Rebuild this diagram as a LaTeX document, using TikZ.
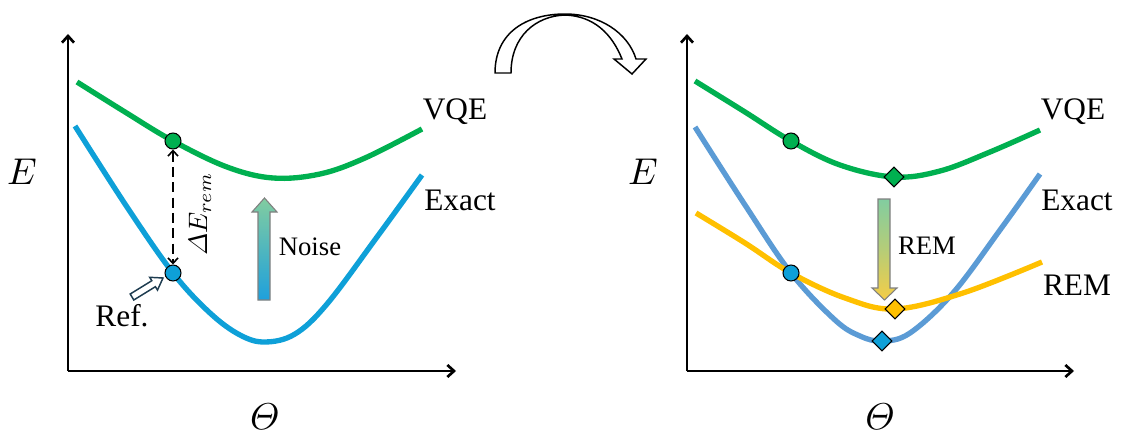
\documentclass[tikz,border=0pt]{standalone}
\usepackage{amsmath}
\usepackage[no-math]{fontspec}
\setmainfont{Liberation Serif}
\usetikzlibrary{arrows.meta,shapes.geometric}
\definecolor{cgreen}{RGB}{0,176,80}
\definecolor{cblue}{RGB}{14,160,216}
\definecolor{cblueR}{RGB}{91,155,213}
\definecolor{cyellow}{RGB}{255,192,0}
\definecolor{gradG}{RGB}{130,205,160}
\definecolor{gradB}{RGB}{30,160,220}
\definecolor{gradY}{RGB}{245,205,70}
\definecolor{refline}{RGB}{30,60,80}
\begin{document}
\begin{tikzpicture}[x=0.75pt,y=-0.75pt,
  axisline/.style={line width=2.2pt,-{Straight Barb[length=5pt,width=9pt,line width=2pt]}},
  curve/.style={line width=4pt,smooth,tension=0.6},
  dot/.style={circle,draw=black,line width=0.8pt,minimum size=12pt,inner sep=0pt},
  diam/.style={diamond,draw=black,line width=0.8pt,minimum size=15pt,inner sep=0pt},
  lab/.style={font=\fontsize{23.5}{27}\selectfont},
  midlab/.style={font=\fontsize{20}{24}\selectfont},
  axlab/.style={scale=2.8},
  gradarrow/.style={draw=gray,line width=0.8pt},
  hollow/.style={draw=black,line width=1.1pt,fill=white}]
\useasboundingbox (0,0) rectangle (1121,435);

% ---------- left panel ----------
\coordinate (oL) at (68,371);
\coordinate (yL) at (68,34);
\coordinate (xL) at (456,371);
\draw[axisline] (oL) -- (yL);
\draw[axisline] (oL) -- (xL);

\draw[curve,cgreen] plot coordinates {(77,82) (125,112) (173,141) (227,167) (273,178) (320,174) (365,158) (422,129)};
\draw[curve,cblue] plot coordinates {(75,126) (127,207) (173,273) (210,313) (240,335) (265,342) (295,334) (327,304) (377,237) (422,175)};

\node[dot,fill=cgreen] (gL) at (173,141) {};
\node[dot,fill=cblue] (bL) at (173,273) {};
\draw[dash pattern=on 7.5pt off 4pt,line width=1.2pt,
  {Straight Barb[length=4pt,width=7.5pt]}-{Straight Barb[length=4pt,width=7.5pt]}] (gL) -- (bL);
\node[rotate=90,scale=2.0] (dE) at (200,214) {$\varDelta E_{rem}$};

\path[gradarrow,top color=gradG,bottom color=gradB]
  (258,300) -- (258,212) -- (252,212) -- (264.5,198) -- (277,212) -- (270,212) -- (270,300) -- cycle;
\node[midlab] (noise) at (310,247) {Noise};

\path[draw=refline,line width=1.1pt,fill=white]
  (130.2,294.0) -- (151.8,280.7) -- (149.7,277.3) -- (163,278) -- (157.5,290.1) -- (155.4,286.7) -- (133.8,300.0) -- cycle;
\node[lab] (ref) at (122,316) {Ref.};

\node[lab] (vqeL) at (455,112) {VQE};
\node[lab] (exL) at (460,200) {Exact};
\node[axlab] (EL) at (22,172) {$E$};
\node[axlab] (thL) at (265,417) {$\varTheta$};

% ---------- curved arrow ----------
\path[hollow] (495,73) .. controls (495,32) and (527,14) .. (565,14)
  .. controls (600,14) and (628,33) .. (636,59) -- (646,59) -- (632,74) -- (614,59) -- (622,59)
  .. controls (612,34) and (594,16) .. (565,15)
  .. controls (536,16) and (511,36) .. (511,73) -- cycle;

% ---------- right panel ----------
\coordinate (oR) at (687,371);
\coordinate (yR) at (687,34);
\coordinate (xR) at (1074,371);
\draw[axisline] (oR) -- (yR);
\draw[axisline] (oR) -- (xR);

\draw[curve,cgreen] plot coordinates {(695,81) (745,112) (791,141) (840,165) (894,177) (940,171) (990,152) (1040,130)};
\draw[curve,cblueR] plot coordinates {(695,127) (745,205) (791,273) (835,320) (860,336) (882,341) (910,333) (953,293) (1000,230) (1040,174)};
\draw[curve,cyellow] plot coordinates {(696,213) (745,243) (791,273) (845,298) (895,309) (963,293) (1042,262)};

\node[dot,fill=cgreen] (gR) at (791,141) {};
\node[dot,fill=cblue] (bR) at (791,273) {};
\node[diam,fill=cgreen] (gD) at (894,177) {};
\node[diam,fill=cyellow] (yD) at (895,309) {};
\node[diam,fill=cblue] (bD) at (882,341) {};

\path[gradarrow,top color=gradG,bottom color=gradY,middle color=gradG!55!gradY]
  (878,199) -- (878,288) -- (872,288) -- (884.5,300) -- (897,288) -- (890,288) -- (890,199) -- cycle;
\node[midlab] (remM) at (927,246) {REM};

\node[lab] (vqeR) at (1073,112) {VQE};
\node[lab] (exR) at (1077,200) {Exact};
\node[lab] (remR) at (1077,285) {REM};
\node[axlab] (ER) at (643,172) {$E$};
\node[axlab] (thR) at (880,417) {$\varTheta$};
\end{tikzpicture}
\end{document}
